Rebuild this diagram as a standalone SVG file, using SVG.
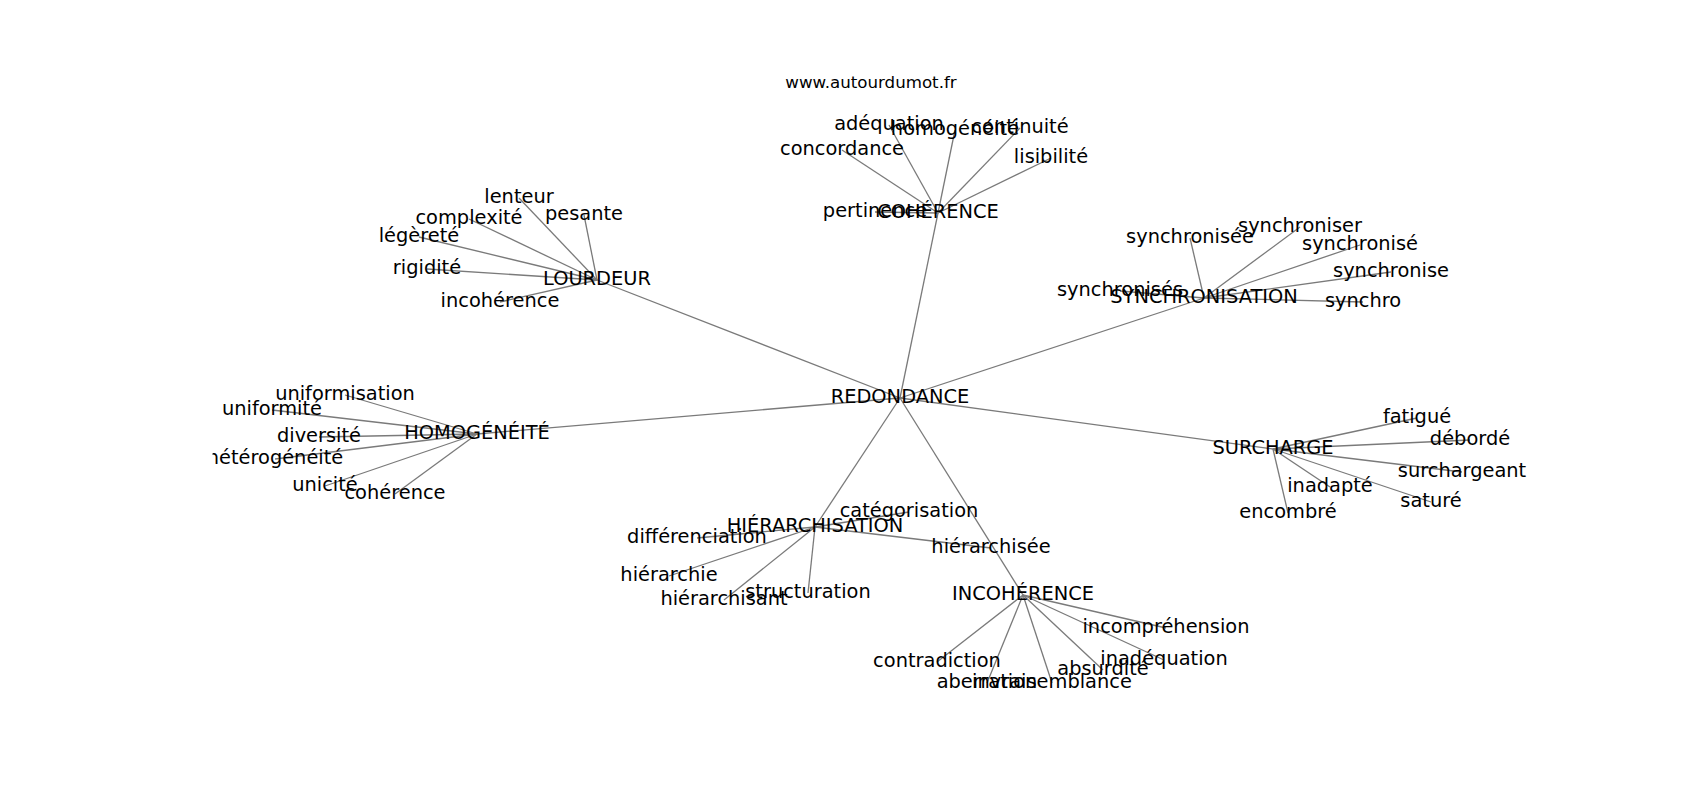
<svg xmlns="http://www.w3.org/2000/svg" width="1700" height="800" viewBox="0 0 1700 800">
<style>
.e{stroke:#7a7a7a;stroke-width:1.3;fill:none}
text{font-family:"DejaVu Sans","Liberation Sans",sans-serif;font-size:19.4px;text-anchor:middle;fill:#000}
.t{font-size:16.67px}
</style>
<defs><clipPath id="ax"><rect x="212.5" y="96" width="1317.5" height="616"/></clipPath></defs>
<rect width="1700" height="800" fill="#fff"/>
<g id="title"><text class="t" x="871" y="88">www.autourdumot.fr</text></g>
<g id="edges" class="e">
<line x1="900" y1="398" x2="938" y2="213"/>
<line x1="900" y1="398" x2="597" y2="280"/>
<line x1="900" y1="398" x2="1204" y2="298"/>
<line x1="900" y1="398" x2="477" y2="434"/>
<line x1="900" y1="398" x2="1273" y2="449"/>
<line x1="900" y1="398" x2="815" y2="527"/>
<line x1="900" y1="398" x2="1023" y2="595"/>
<line x1="938" y1="213" x2="889" y2="125"/>
<line x1="938" y1="213" x2="955" y2="130"/>
<line x1="938" y1="213" x2="1020" y2="128"/>
<line x1="938" y1="213" x2="842" y2="150"/>
<line x1="938" y1="213" x2="1051" y2="158"/>
<line x1="938" y1="213" x2="875" y2="212"/>
<line x1="597" y1="280" x2="519" y2="198"/>
<line x1="597" y1="280" x2="584" y2="215"/>
<line x1="597" y1="280" x2="469" y2="219"/>
<line x1="597" y1="280" x2="419" y2="237"/>
<line x1="597" y1="280" x2="427" y2="269"/>
<line x1="597" y1="280" x2="500" y2="302"/>
<line x1="1204" y1="298" x2="1190" y2="238"/>
<line x1="1204" y1="298" x2="1300" y2="227"/>
<line x1="1204" y1="298" x2="1360" y2="245"/>
<line x1="1204" y1="298" x2="1391" y2="272"/>
<line x1="1204" y1="298" x2="1363" y2="302"/>
<line x1="1204" y1="298" x2="1120" y2="291"/>
<line x1="477" y1="434" x2="345" y2="395"/>
<line x1="477" y1="434" x2="272" y2="410"/>
<line x1="477" y1="434" x2="319" y2="437"/>
<line x1="477" y1="434" x2="275" y2="459"/>
<line x1="477" y1="434" x2="325" y2="486"/>
<line x1="477" y1="434" x2="395" y2="494"/>
<line x1="1273" y1="449" x2="1417" y2="418"/>
<line x1="1273" y1="449" x2="1470" y2="440"/>
<line x1="1273" y1="449" x2="1462" y2="472"/>
<line x1="1273" y1="449" x2="1330" y2="487"/>
<line x1="1273" y1="449" x2="1431" y2="502"/>
<line x1="1273" y1="449" x2="1288" y2="513"/>
<line x1="815" y1="527" x2="909" y2="512"/>
<line x1="815" y1="527" x2="697" y2="538"/>
<line x1="815" y1="527" x2="991" y2="548"/>
<line x1="815" y1="527" x2="669" y2="576"/>
<line x1="815" y1="527" x2="724" y2="600"/>
<line x1="815" y1="527" x2="808" y2="593"/>
<line x1="1023" y1="595" x2="1166" y2="628"/>
<line x1="1023" y1="595" x2="937" y2="662"/>
<line x1="1023" y1="595" x2="1164" y2="660"/>
<line x1="1023" y1="595" x2="1103" y2="670"/>
<line x1="1023" y1="595" x2="987" y2="683"/>
<line x1="1023" y1="595" x2="1052" y2="683"/>
</g>
<g id="labels" clip-path="url(#ax)">
<g id="n-redondance"><text x="900" y="403">REDONDANCE</text></g>
<g id="n-coherence"><text x="938" y="218">COHÉRENCE</text></g>
<g id="n-adequation"><text x="889" y="130">adéquation</text></g>
<g id="n-homogeneite2"><text x="955" y="135">homogénéité</text></g>
<g id="n-continuite"><text x="1020" y="133">continuité</text></g>
<g id="n-concordance"><text x="842" y="155">concordance</text></g>
<g id="n-lisibilite"><text x="1051" y="163">lisibilité</text></g>
<g id="n-pertinence"><text x="875" y="217">pertinence</text></g>
<g id="n-lourdeur"><text x="597" y="285">LOURDEUR</text></g>
<g id="n-lenteur"><text x="519" y="203">lenteur</text></g>
<g id="n-pesante"><text x="584" y="220">pesante</text></g>
<g id="n-complexite"><text x="469" y="224">complexité</text></g>
<g id="n-legerete"><text x="419" y="242">légèreté</text></g>
<g id="n-rigidite"><text x="427" y="274">rigidité</text></g>
<g id="n-incoherence2"><text x="500" y="307">incohérence</text></g>
<g id="n-synchronisation"><text x="1204" y="303">SYNCHRONISATION</text></g>
<g id="n-synchronisee"><text x="1190" y="243">synchronisée</text></g>
<g id="n-synchroniser"><text x="1300" y="232">synchroniser</text></g>
<g id="n-synchronise-acc"><text x="1360" y="250">synchronisé</text></g>
<g id="n-synchronise"><text x="1391" y="277">synchronise</text></g>
<g id="n-synchro"><text x="1363" y="307">synchro</text></g>
<g id="n-synchronises"><text x="1120" y="296">synchronisés</text></g>
<g id="n-homogeneite"><text x="477" y="439">HOMOGÉNÉITÉ</text></g>
<g id="n-uniformisation"><text x="345" y="400">uniformisation</text></g>
<g id="n-uniformite"><text x="272" y="415">uniformité</text></g>
<g id="n-diversite"><text x="319" y="442">diversité</text></g>
<g id="n-heterogeneite"><text x="275" y="464">hétérogénéité</text></g>
<g id="n-unicite"><text x="325" y="491">unicité</text></g>
<g id="n-coherence2"><text x="395" y="499">cohérence</text></g>
<g id="n-surcharge"><text x="1273" y="454">SURCHARGE</text></g>
<g id="n-fatigue"><text x="1417" y="423">fatigué</text></g>
<g id="n-deborde"><text x="1470" y="445">débordé</text></g>
<g id="n-surchargeant"><text x="1462" y="477">surchargeant</text></g>
<g id="n-inadapte"><text x="1330" y="492">inadapté</text></g>
<g id="n-sature"><text x="1431" y="507">saturé</text></g>
<g id="n-encombre"><text x="1288" y="518">encombré</text></g>
<g id="n-hierarchisation"><text x="815" y="532">HIÉRARCHISATION</text></g>
<g id="n-categorisation"><text x="909" y="517">catégorisation</text></g>
<g id="n-differenciation"><text x="697" y="543">différenciation</text></g>
<g id="n-hierarchisee"><text x="991" y="553">hiérarchisée</text></g>
<g id="n-hierarchie"><text x="669" y="581">hiérarchie</text></g>
<g id="n-hierarchisant"><text x="724" y="605">hiérarchisant</text></g>
<g id="n-structuration"><text x="808" y="598">structuration</text></g>
<g id="n-incoherence"><text x="1023" y="600">INCOHÉRENCE</text></g>
<g id="n-incomprehension"><text x="1166" y="633">incompréhension</text></g>
<g id="n-contradiction"><text x="937" y="667">contradiction</text></g>
<g id="n-inadequation"><text x="1164" y="665">inadéquation</text></g>
<g id="n-absurdite"><text x="1103" y="675">absurdité</text></g>
<g id="n-aberration"><text x="987" y="688">aberration</text></g>
<g id="n-invraisemblance"><text x="1052" y="688">invraisemblance</text></g>
</g>
</svg>
